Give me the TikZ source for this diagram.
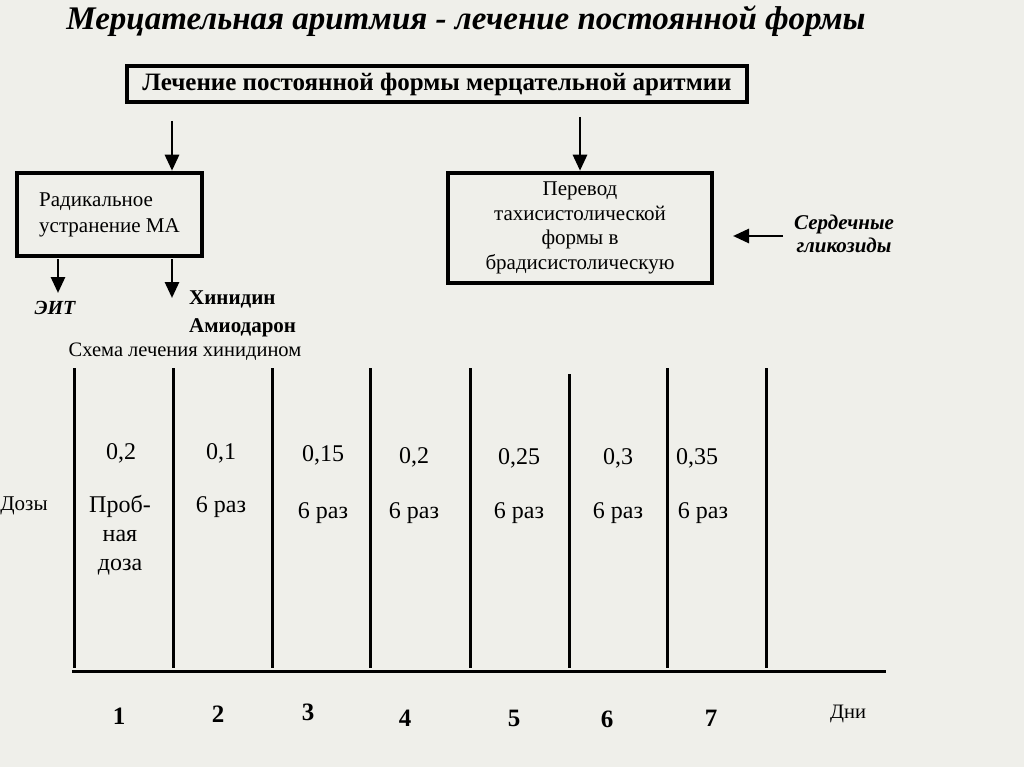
\documentclass[tikz,border=0pt]{standalone}
\usepackage{fontspec}
\setmainfont{Liberation Serif}
\usetikzlibrary{arrows.meta}
\definecolor{paper}{RGB}{239,239,234}
\tikzset{
  frame/.style={draw=black, line width=4.5pt, inner sep=0pt},
  arr/.style={line width=2.8pt, -{Triangle[length=16pt,width=14pt]}},
  grid/.style={line width=3pt},
  lbl/.style={inner sep=0pt, font=\fontsize{24}{26}\selectfont},
  day/.style={inner sep=0pt, font=\bfseries\fontsize{25}{28}\selectfont},
}
\begin{document}
\begin{tikzpicture}[x=1pt,y=-1pt]
\useasboundingbox[fill=paper] (0,0) rectangle (1024,767);
% title
\node[inner sep=0pt, font=\bfseries\itshape\fontsize{33}{36}\selectfont] (title) at (466,21) {Мерцательная аритмия - лечение постоянной формы};
% main box
\node[frame, minimum width=620pt, minimum height=36pt, font=\bfseries\fontsize{25}{27}\selectfont] (main) at (437,84) {Лечение постоянной формы мерцательной аритмии};
% left box
\node[frame, minimum width=185pt, minimum height=83pt, align=left, font=\fontsize{21}{26}\selectfont] (rad) at (109.5,214.5) {Радикальное\\устранение МА};
% right box
\node[frame, minimum width=264pt, minimum height=110pt, align=center, font=\fontsize{21}{24.5}\selectfont] (per) at (580,228) {Перевод\\тахисистолической\\формы в\\брадисистолическую};
% glycosides
\node[inner sep=0pt, align=center, font=\bfseries\itshape\fontsize{21}{23}\selectfont] (gly) at (844,234) {Сердечные\\гликозиды};
% arrows from main box
\coordinate (a1) at (172,121);
\coordinate (a2) at (580,117);
\draw[arr] (a1) -- (a1 |- rad.north);
\draw[arr] (a2) -- (a2 |- per.north);
\coordinate (g1) at (783,236);
\draw[arr] (g1) -- (733,236);
% lower left
\coordinate (e1) at (58,259);
\coordinate (h1) at (172,259);
\node[inner sep=0pt, font=\bfseries\itshape\fontsize{20}{22}\selectfont] (eit) at (55,308) {ЭИТ};
\node[inner sep=0pt, anchor=west, align=left, font=\bfseries\fontsize{21}{28}\selectfont] (hin) at (189,314) {Хинидин\\Амиодарон};
\draw[arr] (e1) -- (58,293);
\draw[arr] (h1) -- (172,298);
\node[inner sep=0pt, font=\fontsize{20.5}{22}\selectfont] (scheme) at (185,352) {Схема лечения хинидином};
% grid
\foreach \x/\t in {74/368,173/368,272/368,370/368,470/368,569/374,667/368,766/368}
  \draw[grid] (\x,\t) -- (\x,668);
\coordinate (axl) at (72,671);
\coordinate (axr) at (886,671);
\draw[grid] (axl) -- (axr);
% doses
\node[lbl, font=\fontsize{21}{24}\selectfont] (dl) at (24,506) {Дозы};
\node[lbl] (d1) at (121,453) {0,2};
\node[lbl] (d2) at (221,453) {0,1};
\node[lbl] (d3) at (323,455) {0,15};
\node[lbl] (d4) at (414,457) {0,2};
\node[lbl] (d5) at (519,458) {0,25};
\node[lbl] (d6) at (618,458) {0,3};
\node[lbl] (d7) at (697,458) {0,35};
\node[lbl, align=center, font=\fontsize{24}{29}\selectfont] (p1) at (120,535) {Проб-\\ная\\доза};
\node[lbl] (t2) at (221,507) {6 раз};
\node[lbl] (t3) at (323,513) {6 раз};
\node[lbl] (t4) at (414,513) {6 раз};
\node[lbl] (t5) at (519,513) {6 раз};
\node[lbl] (t6) at (618,513) {6 раз};
\node[lbl] (t7) at (703,513) {6 раз};
% days
\node[day] (n1) at (119,716) {1};
\node[day] (n2) at (218,714) {2};
\node[day] (n3) at (308,712) {3};
\node[day] (n4) at (405,718) {4};
\node[day] (n5) at (514,718) {5};
\node[day] (n6) at (607,719) {6};
\node[day] (n7) at (711,718) {7};
\node[inner sep=0pt, font=\fontsize{20.5}{22}\selectfont] (dni) at (848,714) {Дни};
\end{tikzpicture}
\end{document}
